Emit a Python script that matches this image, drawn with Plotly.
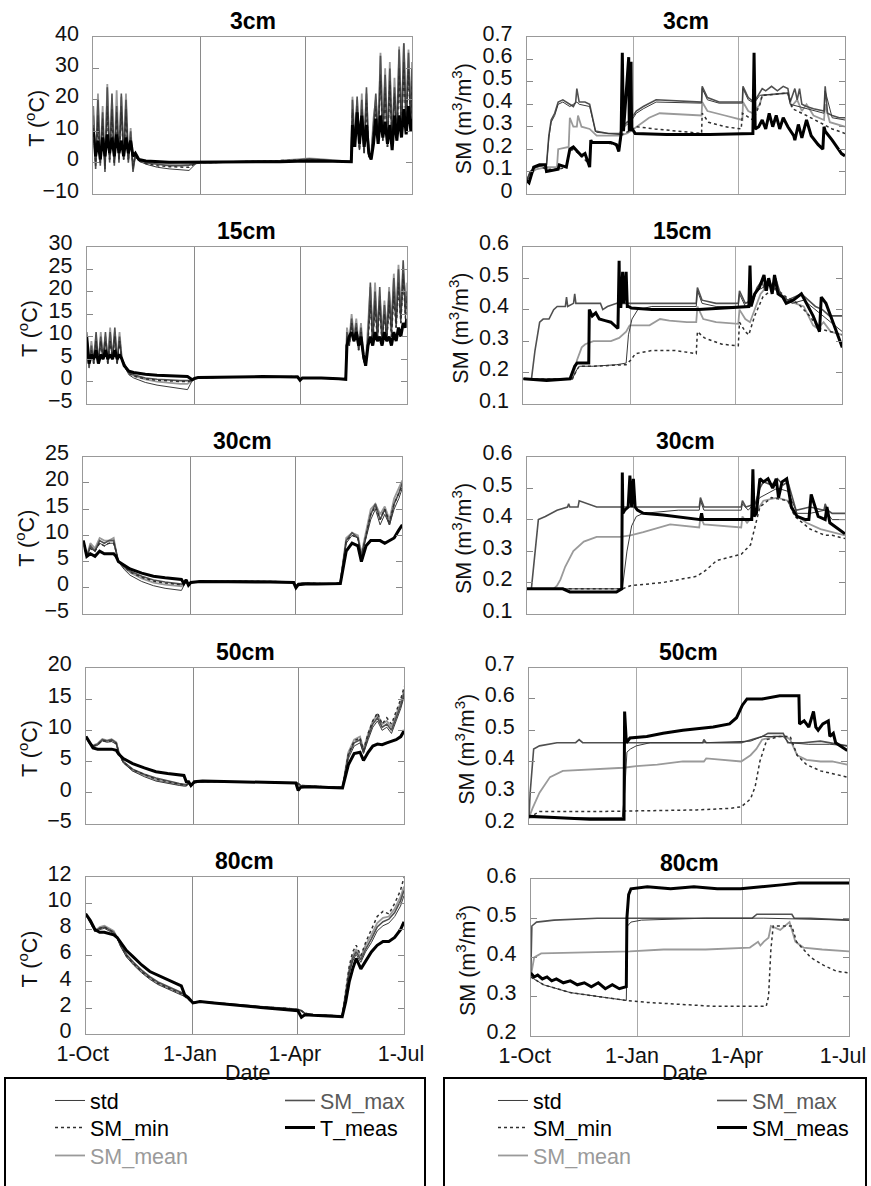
import plotly.graph_objects as go

# ---------------- Temperature panels (day index since 1-Oct) ----------------
T3_days = [0, 2, 4, 6, 8, 10, 12, 14, 16, 18, 20, 22, 24, 26, 28, 30, 32, 34, 36,
           39, 45, 55, 65, 75, 82, 88, 92, 100, 120, 140, 160, 175, 185, 195, 205, 215, 221,
           222, 224, 226, 228, 230, 232, 234, 236, 238, 240, 242, 244, 246, 248, 250, 252, 254,
           256, 258, 260, 262, 264, 266, 268, 270, 272, 273]
T3_meas = [10, 2, 7, 1, 8, 2, 9, 3, 8, 2, 9, 3, 7, 2, 8, 3, 7, 2, 3,
           1, 0.5, 0.2, 0.1, 0.1, 0.1, 0.2, 0.2, 0.2, 0.3, 0.3, 0.3, 0.4, 0.5, 0.5, 0.4, 0.3, 0.3,
           12, 5, 16, 6, 15, 5, 12, 3, 1, 6, 14, 6, 15, 8, 13, 6, 12, 4, 15, 7, 15, 8, 17, 9, 18, 10, 14]
T3_max = [18, -2, 20, -1, 16, -3, 24, 0, 22, -1, 18, 0, 22, 1, 20, 0, 10, -3, 3,
          1, 0, -0.5, -1, -1, -0.8, -0.3, 0, 0, 0.3, 0.5, 0.6, 0.8, 1.2, 1, 0.6, 0.3, 0.3,
          20, 6, 21, 5, 20, 4, 24, 2, 2, 12, 22, 8, 34, 8, 28, 5, 30, 6, 24, 8, 36, 10, 38, 12, 35, 12, 30]
T3_mean = [15, -1, 22, 0, 18, -2, 25, 1, 20, 0, 23, 1, 21, 2, 22, 1, 11, -2, 2,
           1, 0, -0.3, -0.6, -0.7, -0.5, -0.2, 0, 0, 0.3, 0.5, 0.6, 0.9, 1.3, 1.1, 0.7, 0.4, 0.3,
           21, 5, 20, 4, 22, 3, 22, 2, 2, 14, 20, 7, 35, 9, 30, 6, 32, 7, 27, 9, 37, 11, 38, 14, 36, 13, 32]
T3_std = [12, -1, 15, 0, 14, -2, 18, 1, 17, 0, 16, 1, 18, 1, 17, 1, 8, -2, 2,
          0.5, -0.5, -1.5, -2, -2.3, -2.5, -0.3, 0, 0, 0.2, 0.4, 0.5, 0.7, 1, 0.8, 0.5, 0.2, 0.3,
          17, 5, 18, 4, 17, 3, 20, 2, 1, 10, 18, 7, 28, 7, 24, 5, 26, 6, 22, 7, 30, 9, 32, 11, 30, 11, 26]
T3_min = [11, 0, 13, 0, 12, -1, 16, 1, 15, 0, 14, 1, 16, 1, 15, 1, 7, -1, 2,
          0.5, -0.3, -1, -1.3, -1.5, -1.5, -0.2, 0, 0, 0.2, 0.4, 0.5, 0.6, 0.9, 0.7, 0.4, 0.2, 0.3,
          16, 5, 17, 4, 16, 3, 19, 2, 1, 10, 17, 7, 26, 7, 22, 5, 25, 6, 21, 7, 28, 9, 30, 11, 29, 11, 25]

T15_days = [0, 2, 4, 6, 8, 10, 12, 14, 16, 18, 20, 22, 24, 26, 28, 30, 32, 34,
            36, 40, 50, 60, 70, 80, 86, 90, 92, 95, 120, 150, 180, 182, 184, 200, 215, 221,
            222, 224, 226, 228, 230, 232, 234, 236, 238, 240, 242, 244, 246, 248, 250, 252, 254,
            256, 258, 260, 262, 264, 266, 268, 270, 272, 273]
T15_meas = [10, 4, 6, 5, 7, 4, 6, 5, 7, 5, 6, 5, 7, 5, 6, 5, 3.5, 2.8,
            2.3, 2, 1.6, 1.4, 1.3, 1.2, 1.1, 0.4, 0.7, 0.9, 1, 1.1, 1, 0.3, 0.8, 0.8, 0.6, 0.5,
            8, 10, 11, 9, 11, 8, 10, 6, 3.5, 8, 10, 8, 11, 9, 10, 8, 11, 9, 10, 8, 11, 9, 12, 10, 13, 12, 14]
T15_max = [11, 3, 8, 4, 11, 4, 10, 5, 11, 4, 11, 5, 12, 4, 10, 5, 4, 3,
           2, 1.5, 0.8, 0.5, 0.3, 0.2, 0.2, 0.3, 0.6, 0.8, 1, 1.1, 1.1, 0.5, 0.8, 0.8, 0.6, 0.5,
           11, 8, 14, 9, 13, 7, 12, 5, 3.5, 10, 22, 9, 20, 10, 21, 9, 17, 10, 20, 12, 23, 13, 25, 14, 27, 15, 20]
T15_mean = [10, 4, 9, 5, 10, 4, 11, 5, 10, 5, 12, 5, 11, 5, 11, 5, 4, 3,
            2, 1.3, 0.5, 0, -0.3, -0.5, -0.5, 0.2, 0.6, 0.8, 1, 1.1, 1.1, 0.5, 0.8, 0.8, 0.6, 0.5,
            12, 9, 15, 10, 14, 8, 13, 6, 4, 12, 21, 10, 22, 11, 19, 10, 18, 11, 21, 12, 24, 14, 26, 15, 25, 17, 22]
T15_std = [9, 4, 7, 4, 9, 4, 9, 5, 9, 4, 9, 5, 10, 4, 9, 5, 3.5, 2.5,
           1.5, 0.8, -0.2, -0.8, -1.2, -1.6, -1.8, 0.2, 0.6, 0.8, 1, 1.1, 1.1, 0.5, 0.8, 0.8, 0.6, 0.5,
           10, 8, 13, 9, 12, 7, 11, 5, 3.5, 9, 18, 8, 18, 9, 18, 8, 15, 9, 18, 10, 20, 12, 22, 13, 24, 14, 19]
T15_min = [9, 4, 7, 4, 9, 4, 9, 5, 9, 4, 9, 5, 10, 4, 9, 5, 3.5, 2.5,
           1.8, 1.2, 0.6, 0.3, 0.1, 0, 0, 0.2, 0.6, 0.8, 1, 1.1, 1.1, 0.5, 0.8, 0.8, 0.6, 0.5,
           10, 8, 13, 9, 12, 7, 11, 5, 3.5, 9, 17, 8, 17, 9, 17, 8, 15, 9, 17, 10, 19, 12, 21, 13, 23, 14, 18]

T30_days = [0, 3, 6, 10, 14, 18, 22, 26, 28, 30, 35, 40, 50, 60, 70, 80, 84, 86, 88, 90, 92, 100,
            130, 160, 180, 182, 184, 190, 200, 215, 220, 225, 230, 235, 238, 242, 246, 250, 254,
            258, 262, 266, 270, 273]
T30_meas = [9, 6, 6.5, 6, 7, 6.5, 6.5, 6.5, 6, 5, 4.3, 3.6, 2.8, 2.2, 1.9, 1.7, 1.6, 0.8, 1.5, 0.5,
            1, 1.2, 1.2, 1.1, 1.0, 0, 0.6, 0.7, 0.7, 0.7, 0.8, 7, 8.5, 8, 5, 8, 9, 9, 9, 8.5,
            9, 9.5, 11, 12]
T30_max = [9, 6, 8, 7, 9, 8.5, 9, 9, 7, 5, 4, 3.2, 2.2, 1.5, 1.1, 0.8, 0.7, 0.8, 1.4, 0.6,
           1, 1.2, 1.3, 1.2, 1.1, 0.3, 0.8, 0.9, 0.8, 0.7, 1, 9, 10.5, 9.5, 6, 10, 14, 16, 13, 15,
           12, 16, 18, 20]
T30_mean = [9, 6, 8.5, 7.5, 9.5, 9, 9, 9.5, 7, 5, 3.8, 2.9, 1.8, 1.0, 0.6, 0.4, 0.3, 0.6, 1.3, 0.6,
            1, 1.2, 1.3, 1.2, 1.1, 0.3, 0.8, 0.9, 0.8, 0.7, 1, 9.5, 10.5, 10, 6.5, 11, 15, 16, 14, 15.5,
            13, 17, 19, 20.5]
T30_std = [9, 6, 7.5, 7, 8.5, 8, 8.5, 8.5, 7, 5, 3.5, 2.4, 1.2, 0.4, -0.1, -0.4, -0.5, 0.4, 1.2, 0.6,
           1, 1.2, 1.3, 1.2, 1.1, 0.3, 0.8, 0.9, 0.8, 0.7, 1, 8.5, 10, 9.5, 6, 9.5, 13, 15, 12, 14,
           12, 15, 17, 19]
T30_min = [9, 6, 7.5, 7, 8.5, 8, 8.5, 8.5, 7, 5, 4, 3, 2, 1.3, 0.9, 0.7, 0.6, 0.8, 1.3, 0.6,
           1, 1.2, 1.3, 1.2, 1.1, 0.3, 0.8, 0.9, 0.8, 0.7, 1, 9, 10, 9.5, 6, 10, 14, 15.5, 13, 15,
           12.5, 16, 18, 19.5]

T50_days = [0, 3, 6, 10, 14, 18, 22, 26, 28, 32, 40, 50, 60, 70, 80, 84, 86, 88, 90, 93, 100,
            130, 160, 180, 182, 184, 190, 200, 215, 220, 225, 230, 235, 238, 242, 246, 250, 254,
            258, 262, 266, 270, 273]
T50_meas = [9, 8, 7.2, 7, 7, 7, 7, 6.8, 6.2, 5.5, 4.7, 4, 3.4, 3.1, 2.9, 2.8, 1.8, 1.8, 1.2, 1.8,
            1.9, 1.8, 1.7, 1.6, 0.4, 0.9, 1, 0.9, 0.8, 0.8, 4.5, 6.3, 6.5, 5.2, 6.5, 7.5, 7.8, 7.7, 8, 8.3,
            8.5, 9, 10]
T50_max = [9, 8, 7.5, 7.8, 8.5, 8.3, 8.5, 8, 6.5, 5, 3.8, 3, 2.4, 1.9, 1.5, 1.4, 1.3, 1.6, 1.2, 1.7,
           1.8, 1.8, 1.7, 1.6, 1.5, 1.2, 1.1, 1.0, 0.9, 0.9, 6, 8, 8.5, 6.5, 9, 11, 12, 10.5, 11, 10,
           12, 14, 16]
T50_mean = [9, 8, 7.6, 7.9, 8.6, 8.4, 8.6, 8.1, 6.6, 5, 3.6, 2.8, 2.1, 1.7, 1.3, 1.2, 1.2, 1.6, 1.2, 1.7,
            1.8, 1.8, 1.7, 1.6, 1.5, 1.2, 1.1, 1.0, 0.9, 0.9, 6.5, 8.5, 9, 7, 9.5, 11.5, 12.5, 11, 11.5, 10.5,
            12.5, 14.5, 16.5]
T50_std = [9, 8, 7.4, 7.6, 8.3, 8.1, 8.2, 7.8, 6.4, 4.8, 3.5, 2.6, 1.9, 1.5, 1.2, 1.1, 1.1, 1.5, 1.1, 1.6,
           1.8, 1.8, 1.7, 1.6, 1.5, 1.2, 1.1, 1.0, 0.9, 0.9, 5.5, 7.5, 8, 6.3, 8.5, 10.5, 11.5, 10, 10.5, 9.5,
           11.5, 13.5, 15.5]
T50_min = [9, 8, 7.5, 7.7, 8.4, 8.2, 8.3, 7.9, 6.5, 4.9, 3.7, 2.9, 2.2, 1.8, 1.4, 1.3, 1.2, 1.6, 1.2, 1.7,
           1.8, 1.8, 1.7, 1.6, 1.5, 1.2, 1.1, 1.0, 0.9, 0.9, 6.2, 8.3, 8.8, 6.8, 9.5, 11.5, 12.8, 11, 12, 11,
           13, 15, 17]

T80_days = [0, 4, 8, 12, 16, 20, 24, 27, 30, 35, 41, 48, 55, 62, 69, 76, 82, 85, 88, 92, 98, 110,
            130, 150, 170, 182, 185, 188, 195, 205, 215, 220, 223, 226, 229, 232, 236, 240, 245,
            250, 255, 260, 265, 270, 273]
T80_meas = [9.2, 8.7, 8.0, 7.8, 7.8, 7.7, 7.6, 7.4, 7.0, 6.4, 5.9, 5.3, 4.8, 4.5, 4.2, 3.9, 3.7, 3.0,
            2.8, 2.4, 2.5, 2.4, 2.2, 2.05, 1.9, 1.8, 1.3, 1.5, 1.45, 1.4, 1.35, 1.35, 2.5, 4.0, 5.0,
            5.8, 5.0, 5.6, 6.3, 6.8, 7.1, 7.1, 7.4, 8.0, 8.6]
T80_max = [9.2, 8.6, 7.9, 8.1, 8.2, 8.0, 7.8, 7.4, 6.8, 6.1, 5.5, 4.9, 4.4, 4.0, 3.7, 3.4, 3.2, 3.0,
           2.8, 2.4, 2.5, 2.4, 2.25, 2.1, 2.0, 1.9, 1.8, 1.6, 1.5, 1.45, 1.4, 1.4, 3, 4.8, 5.8,
           6.3, 5.7, 6.5, 7.3, 8.2, 8.6, 8.8, 9.3, 10.2, 11]
T80_mean = [9.2, 8.6, 7.9, 8.2, 8.3, 8.1, 7.9, 7.4, 6.8, 6.0, 5.4, 4.8, 4.3, 3.9, 3.6, 3.3, 3.1, 2.9,
            2.7, 2.4, 2.5, 2.4, 2.25, 2.1, 2.0, 1.9, 1.8, 1.6, 1.5, 1.45, 1.4, 1.4, 3.2, 5.0, 6.0,
            6.5, 5.9, 6.8, 7.6, 8.5, 8.9, 9.0, 9.6, 10.5, 11.3]
T80_std = [9.2, 8.6, 7.9, 8.0, 8.1, 7.9, 7.7, 7.3, 6.7, 5.9, 5.3, 4.7, 4.2, 3.8, 3.5, 3.2, 3.0, 2.9,
           2.7, 2.4, 2.5, 2.4, 2.25, 2.1, 2.0, 1.9, 1.8, 1.6, 1.5, 1.45, 1.4, 1.4, 2.8, 4.6, 5.6,
           6.1, 5.5, 6.3, 7.0, 7.9, 8.3, 8.5, 9.0, 9.8, 10.6]
T80_min = [9.2, 8.6, 7.9, 8.1, 8.2, 8.0, 7.8, 7.4, 6.8, 6.0, 5.4, 4.8, 4.3, 3.9, 3.6, 3.3, 3.1, 2.9,
           2.7, 2.4, 2.5, 2.4, 2.25, 2.1, 2.0, 1.9, 1.8, 1.6, 1.5, 1.45, 1.4, 1.4, 3.3, 5.2, 6.3,
           6.8, 6.0, 7.0, 8.0, 9.0, 9.4, 9.2, 10.0, 11.0, 12.0]

# ---------------- Soil-moisture panels (day index, value) ----------------
SM3_max_d = [0, 3, 8, 17, 19, 21, 24, 27, 31, 37, 40, 42, 43, 45, 50, 54, 57, 59, 60, 70, 80, 82, 86, 89,
             94, 100, 111, 150, 150.5, 155, 165, 185, 185.5, 190, 195, 200, 202, 205, 210, 215, 220, 224,
             226, 230, 232, 234, 236, 240, 246, 255, 256, 258, 262, 268, 273]
SM3_max = [0.06, 0.10, 0.12, 0.13, 0.26, 0.33, 0.36, 0.41, 0.42, 0.40, 0.39, 0.41, 0.47, 0.41, 0.41, 0.40,
           0.33, 0.28, 0.28, 0.27, 0.27, 0.30, 0.32, 0.33, 0.37, 0.39, 0.42, 0.41, 0.48, 0.43, 0.41, 0.41,
           0.48, 0.43, 0.41, 0.45, 0.47, 0.46, 0.48, 0.46, 0.48, 0.47, 0.41, 0.47, 0.42, 0.47, 0.40, 0.39,
           0.38, 0.37, 0.48, 0.36, 0.35, 0.34, 0.34]
SM3_mean_d = [0, 3, 8, 17, 26, 27, 36, 37, 40, 43, 44, 47, 54, 58, 60, 80, 86, 89, 94, 105, 114, 150, 150.5,
              155, 170, 185, 185.5, 190, 194, 200, 202, 224, 227, 232, 236, 240, 246, 255, 256, 260, 273]
SM3_mean = [0.06, 0.09, 0.11, 0.12, 0.12, 0.20, 0.21, 0.34, 0.30, 0.30, 0.35, 0.30, 0.29, 0.27, 0.26, 0.26,
            0.27, 0.28, 0.30, 0.34, 0.36, 0.35, 0.41, 0.37, 0.35, 0.33, 0.41, 0.37, 0.36, 0.40, 0.44, 0.45,
            0.39, 0.42, 0.37, 0.40, 0.35, 0.33, 0.40, 0.32, 0.30]
SM3_min_d = [0, 6, 11, 17, 27, 34, 37, 40, 47, 54, 55, 72, 77, 79, 81, 83, 88, 94, 110, 130, 150, 150.5,
             156, 170, 184, 185, 194, 200, 202, 224, 228, 240, 255, 262, 273]
SM3_min = [0.06, 0.115, 0.125, 0.11, 0.11, 0.12, 0.19, 0.20, 0.17, 0.13, 0.23, 0.225, 0.215, 0.19, 0.26,
           0.27, 0.28, 0.30, 0.29, 0.28, 0.27, 0.36, 0.32, 0.30, 0.29, 0.36, 0.33, 0.40, 0.44, 0.45, 0.38,
           0.35, 0.31, 0.29, 0.27]
SM3_std_d = [0, 3, 8, 17, 19, 21, 24, 27, 31, 37, 43, 45, 54, 57, 59, 60, 80, 82, 86, 89, 94, 100, 111, 150,
             150.5, 155, 165, 185, 185.5, 190, 195, 200, 224, 226, 240, 246, 255, 256, 262, 273]
SM3_std = [0.06, 0.10, 0.12, 0.13, 0.25, 0.32, 0.35, 0.40, 0.41, 0.39, 0.41, 0.40, 0.39, 0.32, 0.28, 0.275,
           0.265, 0.29, 0.31, 0.32, 0.36, 0.38, 0.41, 0.405, 0.47, 0.42, 0.405, 0.405, 0.47, 0.42, 0.405,
           0.44, 0.45, 0.40, 0.38, 0.37, 0.36, 0.46, 0.34, 0.33]
SM3_meas_d = [0, 2, 6, 11, 16, 17, 27, 28, 34, 37, 40, 47, 50, 54, 55, 56, 72, 77, 79, 81, 82, 82.5, 83,
              87.5, 88, 89.5, 90, 90.5, 93, 120, 157, 194, 195, 196, 199, 202, 205, 208, 211, 214, 217,
              220, 224, 229, 230, 233, 236, 240, 244, 250, 254, 255, 256, 262, 270, 273]
SM3_meas = [0.06, 0.05, 0.12, 0.13, 0.13, 0.10, 0.11, 0.13, 0.12, 0.20, 0.21, 0.17, 0.18, 0.12, 0.24, 0.23,
            0.23, 0.22, 0.19, 0.27, 0.63, 0.28, 0.28, 0.61, 0.28, 0.59, 0.28, 0.29, 0.27, 0.265, 0.265,
            0.27, 0.63, 0.29, 0.30, 0.33, 0.29, 0.36, 0.30, 0.35, 0.29, 0.34, 0.30, 0.26, 0.24, 0.31, 0.25,
            0.33, 0.26, 0.22, 0.20, 0.30, 0.28, 0.24, 0.18, 0.17]

SM15_max_d = [0, 7, 10, 14, 17, 22, 26, 29, 36, 37, 38, 43, 44, 45, 55, 66, 68, 72, 80, 100, 148, 149, 153,
              165, 184, 185, 190, 196, 200, 204, 207, 210, 214, 216, 220, 226, 232, 238, 244, 250, 256,
              262, 268, 273]
SM15_max = [0.18, 0.18, 0.27, 0.36, 0.37, 0.37, 0.40, 0.41, 0.41, 0.44, 0.41, 0.42, 0.45, 0.42, 0.42, 0.42,
            0.40, 0.41, 0.42, 0.42, 0.42, 0.47, 0.43, 0.42, 0.42, 0.46, 0.42, 0.43, 0.47, 0.49, 0.46, 0.50,
            0.46, 0.50, 0.45, 0.43, 0.44, 0.45, 0.43, 0.41, 0.40, 0.38, 0.38, 0.38]
SM15_std_d = [0, 42, 46, 48, 60, 80, 88, 90, 93, 98, 110, 148, 149, 153, 165, 184, 185, 190, 196, 200, 210,
              220, 230, 240, 250, 260, 273]
SM15_std = [0.18, 0.18, 0.21, 0.22, 0.22, 0.225, 0.23, 0.32, 0.37, 0.40, 0.41, 0.41, 0.46, 0.42, 0.41, 0.41,
            0.45, 0.41, 0.42, 0.46, 0.48, 0.45, 0.42, 0.43, 0.40, 0.37, 0.33]
SM15_mean_d = [0, 42, 46, 50, 53, 60, 75, 82, 88, 91, 100, 108, 117, 125, 140, 148, 149, 154, 165, 184,
               185, 190, 194, 198, 203, 210, 218, 225, 232, 240, 248, 252, 257, 263, 273]
SM15_mean = [0.18, 0.18, 0.24, 0.28, 0.29, 0.30, 0.30, 0.31, 0.33, 0.35, 0.35, 0.35, 0.37, 0.365, 0.36, 0.36,
             0.41, 0.37, 0.36, 0.355, 0.40, 0.37, 0.36, 0.40, 0.45, 0.48, 0.46, 0.43, 0.42, 0.41, 0.35, 0.34,
             0.36, 0.33, 0.32]
SM15_min_d = [0, 42, 46, 48, 60, 88, 92, 96, 110, 130, 148, 149, 155, 170, 184, 185, 190, 193, 198, 205,
              215, 225, 235, 245, 253, 263, 273]
SM15_min = [0.18, 0.18, 0.21, 0.22, 0.22, 0.225, 0.24, 0.26, 0.27, 0.27, 0.26, 0.33, 0.31, 0.29, 0.285,
            0.36, 0.33, 0.32, 0.38, 0.44, 0.47, 0.44, 0.42, 0.38, 0.34, 0.33, 0.32]
SM15_meas_d = [0, 20, 40, 44, 46, 56, 56.5, 59, 62, 65, 70, 75, 81, 82, 82.5, 83.5, 85, 86, 88, 89, 90,
               92.5, 110, 150, 193, 194, 195, 198, 202, 206, 208, 210, 213, 215, 218, 222, 225, 231, 238,
               242, 248, 253.5, 255, 259, 265, 271, 273]
SM15_meas = [0.18, 0.175, 0.18, 0.22, 0.23, 0.23, 0.40, 0.38, 0.39, 0.37, 0.365, 0.36, 0.34, 0.555, 0.41,
             0.41, 0.52, 0.42, 0.52, 0.41, 0.41, 0.405, 0.40, 0.40, 0.41, 0.54, 0.41, 0.45, 0.47, 0.51, 0.46,
             0.50, 0.45, 0.51, 0.45, 0.44, 0.42, 0.43, 0.45, 0.42, 0.38, 0.33, 0.44, 0.42, 0.36, 0.30, 0.28]

SM30_max_d = [0, 4, 10, 16, 26, 35, 36, 37, 44, 45, 60, 100, 148, 149, 152, 184, 185, 188, 196, 200, 203,
              210, 215, 220, 224, 231, 243, 255, 256, 258, 262, 273]
SM30_max = [0.18, 0.18, 0.40, 0.41, 0.43, 0.44, 0.45, 0.44, 0.44, 0.46, 0.44, 0.44, 0.44, 0.47, 0.44, 0.44,
            0.46, 0.44, 0.45, 0.50, 0.52, 0.51, 0.53, 0.51, 0.52, 0.43, 0.44, 0.43, 0.45, 0.43, 0.42, 0.42]
SM30_std_d = [0, 82, 86, 90, 94, 100, 130, 148, 149, 152, 184, 185, 190, 200, 215, 224, 232, 243, 256, 262, 273]
SM30_std = [0.18, 0.18, 0.30, 0.38, 0.41, 0.42, 0.43, 0.43, 0.46, 0.43, 0.43, 0.45, 0.43, 0.47, 0.50, 0.49,
            0.42, 0.42, 0.43, 0.40, 0.40]
SM30_mean_d = [0, 23, 26, 29, 33, 40, 49, 60, 80, 89, 100, 117, 123, 148, 149, 152, 184, 185, 189, 196, 203,
               215, 224, 229, 240, 252, 262, 273]
SM30_mean = [0.18, 0.18, 0.19, 0.21, 0.25, 0.30, 0.33, 0.345, 0.345, 0.35, 0.36, 0.38, 0.385, 0.375, 0.41,
             0.385, 0.375, 0.41, 0.39, 0.42, 0.46, 0.47, 0.46, 0.42, 0.39, 0.37, 0.36, 0.35]
SM30_min_d = [0, 82, 89, 117, 146, 154, 163, 174, 184, 192, 196, 200, 210, 224, 230, 243, 256, 262, 273]
SM30_min = [0.18, 0.18, 0.19, 0.20, 0.22, 0.24, 0.27, 0.28, 0.29, 0.32, 0.38, 0.44, 0.47, 0.46, 0.41, 0.37,
            0.35, 0.35, 0.34]
SM30_meas_d = [0, 31, 37, 60, 77, 81.5, 82, 82.5, 84, 87, 88.5, 90, 91.5, 93, 95, 100, 117, 149, 150, 151,
               193, 194, 195, 197, 200, 203, 207, 211, 214, 216, 219, 223, 227, 232, 239, 242, 244, 250,
               256, 257.5, 260, 273]
SM30_meas = [0.18, 0.18, 0.17, 0.17, 0.17, 0.18, 0.55, 0.42, 0.43, 0.44, 0.54, 0.44, 0.53, 0.44, 0.43, 0.42,
             0.415, 0.40, 0.42, 0.40, 0.40, 0.56, 0.41, 0.42, 0.53, 0.52, 0.53, 0.50, 0.53, 0.47, 0.52, 0.53,
             0.44, 0.41, 0.40, 0.40, 0.48, 0.41, 0.40, 0.44, 0.39, 0.355]

SM50_max_d = [0, 1, 4, 9, 24, 40, 43, 46, 80, 120, 149, 150, 152, 182, 190, 200, 205, 212, 218, 222, 235,
              250, 258, 265, 273]
SM50_max = [0.22, 0.30, 0.44, 0.45, 0.46, 0.46, 0.47, 0.46, 0.46, 0.46, 0.46, 0.47, 0.46, 0.46, 0.47, 0.48,
            0.49, 0.49, 0.49, 0.46, 0.46, 0.465, 0.46, 0.455, 0.45]
SM50_std_d = [0, 80, 82, 84, 87, 92, 104, 150, 190, 200, 218, 223, 240, 258, 273]
SM50_std = [0.22, 0.22, 0.30, 0.43, 0.44, 0.45, 0.46, 0.46, 0.465, 0.48, 0.48, 0.46, 0.455, 0.455, 0.45]
SM50_mean_d = [0, 3, 9, 18, 29, 58, 81, 92, 110, 132, 150, 152, 182, 190, 195, 200, 210, 220, 224, 230, 238,
               250, 260, 273]
SM50_mean = [0.22, 0.25, 0.30, 0.35, 0.37, 0.375, 0.38, 0.385, 0.39, 0.40, 0.40, 0.41, 0.40, 0.42, 0.44, 0.47,
             0.48, 0.48, 0.47, 0.42, 0.405, 0.40, 0.40, 0.39]
SM50_min_d = [0, 9, 60, 144, 172, 182, 190, 194, 198, 204, 215, 224, 230, 238, 250, 262, 273]
SM50_min = [0.22, 0.24, 0.24, 0.245, 0.25, 0.255, 0.28, 0.32, 0.40, 0.47, 0.48, 0.48, 0.42, 0.39, 0.37, 0.36, 0.35]
SM50_meas_d = [0, 30, 52, 80, 81.5, 82, 83.5, 86.6, 101, 115, 132, 158, 172, 178, 183, 187, 200, 215, 231.5,
               232, 236, 240, 244, 246, 248, 252, 256.7, 258, 261, 263, 267, 273]
SM50_meas = [0.225, 0.22, 0.215, 0.215, 0.215, 0.56, 0.46, 0.475, 0.48, 0.49, 0.50, 0.51, 0.52, 0.54, 0.58,
             0.60, 0.60, 0.61, 0.61, 0.52, 0.53, 0.51, 0.56, 0.51, 0.50, 0.52, 0.53, 0.48, 0.49, 0.46, 0.45, 0.435]

SM80_max_d = [0, 1, 5, 20, 57, 100, 150, 190, 194, 200, 224, 226, 240, 273]
SM80_max = [0.35, 0.48, 0.49, 0.495, 0.50, 0.50, 0.50, 0.50, 0.51, 0.51, 0.51, 0.50, 0.50, 0.495]
SM80_std_d = [0, 11, 34, 57, 82, 83, 86, 95, 150, 200, 273]
SM80_std = [0.35, 0.33, 0.31, 0.30, 0.29, 0.48, 0.49, 0.495, 0.50, 0.50, 0.495]
SM80_mean_d = [0, 3, 9, 50, 85, 114, 150, 188, 195, 197, 200, 204, 206, 214, 222, 227, 234, 250, 273]
SM80_mean = [0.35, 0.40, 0.41, 0.412, 0.415, 0.42, 0.42, 0.425, 0.44, 0.43, 0.44, 0.45, 0.48, 0.47, 0.49,
             0.44, 0.425, 0.42, 0.415]
SM80_min_d = [0, 11, 34, 57, 82, 100, 128, 157, 202, 204, 206, 208, 224, 228, 240, 251, 262, 273]
SM80_min = [0.35, 0.33, 0.31, 0.30, 0.29, 0.285, 0.28, 0.275, 0.275, 0.30, 0.42, 0.48, 0.48, 0.44, 0.40,
            0.38, 0.365, 0.36]
SM80_meas_d = [0, 3, 6, 10, 14, 18, 22, 28, 34, 40, 46, 52, 58, 64, 70, 76, 82, 82.5, 84, 86, 100, 120, 140,
               160, 180, 200, 215, 230, 245, 260, 273]
SM80_meas = [0.36, 0.35, 0.355, 0.345, 0.35, 0.34, 0.345, 0.335, 0.34, 0.33, 0.335, 0.325, 0.335, 0.32, 0.33,
             0.32, 0.325, 0.50, 0.56, 0.575, 0.58, 0.575, 0.58, 0.575, 0.575, 0.58, 0.585, 0.59, 0.59, 0.59, 0.59]

# ---------------- labels / axes ----------------
depths = ["3cm", "15cm", "30cm", "50cm", "80cm"]
x_tickvals = [0, 92, 182, 273]
x_ticktext = ["1-Oct", "1-Jan", "1-Apr", "1-Jul"]
x_title = "Date"
T_ranges = [(-10, 40, 10), (-5, 30, 5), (-5, 25, 5), (-5, 20, 5), (0, 12, 2)]
SM_ranges = [(0, 0.7, 0.1), (0.1, 0.6, 0.1), (0.1, 0.6, 0.1), (0.2, 0.7, 0.1), (0.2, 0.6, 0.1)]
T_title = "T (<sup>o</sup>C)"
SM_title = "SM (m<sup>3</sup>/m<sup>3</sup>)"

T_panels = [
    (T3_days, dict(std=T3_std, min=T3_min, mean=T3_mean, max=T3_max, meas=T3_meas)),
    (T15_days, dict(std=T15_std, min=T15_min, mean=T15_mean, max=T15_max, meas=T15_meas)),
    (T30_days, dict(std=T30_std, min=T30_min, mean=T30_mean, max=T30_max, meas=T30_meas)),
    (T50_days, dict(std=T50_std, min=T50_min, mean=T50_mean, max=T50_max, meas=T50_meas)),
    (T80_days, dict(std=T80_std, min=T80_min, mean=T80_mean, max=T80_max, meas=T80_meas)),
]
SM_panels = [
    dict(std=(SM3_std_d, SM3_std), min=(SM3_min_d, SM3_min), mean=(SM3_mean_d, SM3_mean),
         max=(SM3_max_d, SM3_max), meas=(SM3_meas_d, SM3_meas)),
    dict(std=(SM15_std_d, SM15_std), min=(SM15_min_d, SM15_min), mean=(SM15_mean_d, SM15_mean),
         max=(SM15_max_d, SM15_max), meas=(SM15_meas_d, SM15_meas)),
    dict(std=(SM30_std_d, SM30_std), min=(SM30_min_d, SM30_min), mean=(SM30_mean_d, SM30_mean),
         max=(SM30_max_d, SM30_max), meas=(SM30_meas_d, SM30_meas)),
    dict(std=(SM50_std_d, SM50_std), min=(SM50_min_d, SM50_min), mean=(SM50_mean_d, SM50_mean),
         max=(SM50_max_d, SM50_max), meas=(SM50_meas_d, SM50_meas)),
    dict(std=(SM80_std_d, SM80_std), min=(SM80_min_d, SM80_min), mean=(SM80_mean_d, SM80_mean),
         max=(SM80_max_d, SM80_max), meas=(SM80_meas_d, SM80_meas)),
]

W, H = 871, 1186
left_dom = [(93.3, 412, 37, 194), (86.7, 406.7, 246.7, 404), (83.3, 402.3, 456.7, 614),
            (86, 404.3, 667.7, 824.3), (85.7, 404, 877.3, 1034.3)]
right_dom = [(526.7, 845, 37, 194), (523.3, 842.3, 246.7, 404), (526.7, 845, 456.7, 614),
             (529, 847.3, 667.7, 824), (530.7, 849, 879, 1035.7)]

FONT = "Liberation Sans, Arial, sans-serif"
FS = 21.5
styles = {
    "mean": dict(color="#9a9a9a", width=1.8, dash="solid"),
    "max": dict(color="#505050", width=1.6, dash="solid"),
    "std": dict(color="#3a3a3a", width=1.0, dash="solid"),
    "min": dict(color="#303030", width=1.5, dash="dot"),
    "meas": dict(color="#000000", width=3.0, dash="solid"),
}
draw_order = ["mean", "max", "std", "min", "meas"]
names_T = {"std": "std", "min": "SM_min", "mean": '<span style="color:#9a9a9a">SM_mean</span>',
           "max": '<span style="color:#5a5a5a">SM_max</span>', "meas": "T_meas"}
names_SM = dict(names_T, meas="SM_meas")

# one single-entry legend per slot: (text x in px, row index)
leg_rows = [1102, 1129, 1157]
leg_slots_left = {"std": (90, 0), "max": (320, 0), "min": (90, 1), "meas": (320, 1), "mean": (90, 2)}
leg_slots_right = {"std": (533, 0), "max": (752, 0), "min": (533, 1), "meas": (752, 1), "mean": (533, 2)}
leg_ids_left = {"std": "legend", "max": "legend2", "min": "legend3", "meas": "legend4", "mean": "legend5"}
leg_ids_right = {"std": "legend6", "max": "legend7", "min": "legend8", "meas": "legend9", "mean": "legend10"}

fig = go.Figure()
layout = {}
annotations = []


def ax_suffix(k):
    return "" if k == 1 else str(k)


for i in range(5):
    for col in range(2):
        k = 2 * i + 1 + col
        s = ax_suffix(k)
        x0, x1, y0, y1 = (left_dom if col == 0 else right_dom)[i]
        if col == 0:
            days, series = T_panels[i]
            for key in draw_order:
                st = styles[key]
                fig.add_trace(go.Scatter(
                    x=days, y=series[key], mode="lines", name=names_T[key],
                    line=dict(color=st["color"], width=st["width"], dash=st["dash"]),
                    xaxis="x" + s, yaxis="y" + s, showlegend=(i == 0),
                    legend=leg_ids_left[key], hoverinfo="skip"))
            lo, hi, dt = T_ranges[i]
            ytitle, tx = T_title, x0 - 58
            grid_c = "#8a8a8a"
            date_x = 247
        else:
            series = SM_panels[i]
            for key in draw_order:
                st = styles[key]
                d, v = series[key]
                fig.add_trace(go.Scatter(
                    x=d, y=v, mode="lines", name=names_SM[key],
                    line=dict(color=st["color"], width=st["width"], dash=st["dash"]),
                    xaxis="x" + s, yaxis="y" + s, showlegend=(i == 0),
                    legend=leg_ids_right[key], hoverinfo="skip"))
            lo, hi, dt = SM_ranges[i]
            ytitle, tx = SM_title, x0 - 64
            grid_c = "#aaaaaa"
            date_x = 684

        bottom = (i == 4)
        layout["xaxis" + s] = dict(
            domain=[x0 / W, x1 / W], anchor="y" + s, range=[0, 273],
            tickmode="array", tickvals=x_tickvals, ticktext=x_ticktext,
            showticklabels=bottom, ticks="", showgrid=True, gridcolor=grid_c, gridwidth=1,
            showline=True, linecolor="#999999", linewidth=1, mirror=True, zeroline=False,
            tickfont=dict(size=FS, color="#111"),
            ticklabelshift=(-3 if col == 0 else -6),
        )
        layout["yaxis" + s] = dict(
            domain=[1 - y1 / H, 1 - y0 / H], anchor="x" + s, range=[lo, hi],
            tickmode="linear", tick0=lo, dtick=dt,
            ticks="inside", ticklen=6, tickcolor="#888888", showgrid=False, zeroline=False,
            showline=True, linecolor="#999999", linewidth=1, mirror="ticks",
            tickfont=dict(size=FS, color="#111"), ticklabelstandoff=9, ticklabelshift=-4,
        )
        # panel title
        annotations.append(dict(
            text="<b>%s</b>" % depths[i], x=(x0 + x1) / 2 / W, y=1 - (y0 - 1) / H,
            xref="paper", yref="paper", xanchor="center", yanchor="bottom", showarrow=False,
            font=dict(size=23, color="#000", family=FONT)))
        # y-axis title
        annotations.append(dict(
            text=ytitle, x=tx / W, y=1 - ((y0 + y1) / 2 + 3) / H, textangle=-90,
            xref="paper", yref="paper", xanchor="center", yanchor="middle", showarrow=False,
            font=dict(size=FS, color="#111", family=FONT)))
        # x-axis title (bottom row only)
        if bottom:
            annotations.append(dict(
                text=x_title, x=date_x / W, y=1 - 1073 / H,
                xref="paper", yref="paper", xanchor="center", yanchor="middle", showarrow=False,
                font=dict(size=FS, color="#111", family=FONT)))

leg_common = dict(orientation="v", bgcolor="rgba(0,0,0,0)", borderwidth=0,
                  font=dict(size=FS, color="#000", family=FONT), yanchor="top", xanchor="left",
                  itemclick=False, itemdoubleclick=False)
for slots, ids in ((leg_slots_left, leg_ids_left), (leg_slots_right, leg_ids_right)):
    for key, (txp, r) in slots.items():
        layout[ids[key]] = dict(leg_common, x=(txp - 40) / W, y=1 - (leg_rows[r] - 22) / H)

shapes = [
    dict(type="rect", xref="paper", yref="paper", x0=5 / W, x1=425 / W, y0=-0.02, y1=1 - 1078 / H,
         line=dict(color="#000", width=2), fillcolor="rgba(0,0,0,0)"),
    dict(type="rect", xref="paper", yref="paper", x0=444 / W, x1=866 / W, y0=-0.02, y1=1 - 1078 / H,
         line=dict(color="#000", width=2), fillcolor="rgba(0,0,0,0)"),
]

fig.update_layout(
    width=W, height=H, margin=dict(l=0, r=0, t=0, b=0, autoexpand=False),
    paper_bgcolor="white", plot_bgcolor="white",
    font=dict(family=FONT, size=FS, color="#111"),
    annotations=annotations, shapes=shapes, **layout)

fig.write_html("out.html", config={"displayModeBar": False},
               post_script="document.body.style.margin='0px';")
